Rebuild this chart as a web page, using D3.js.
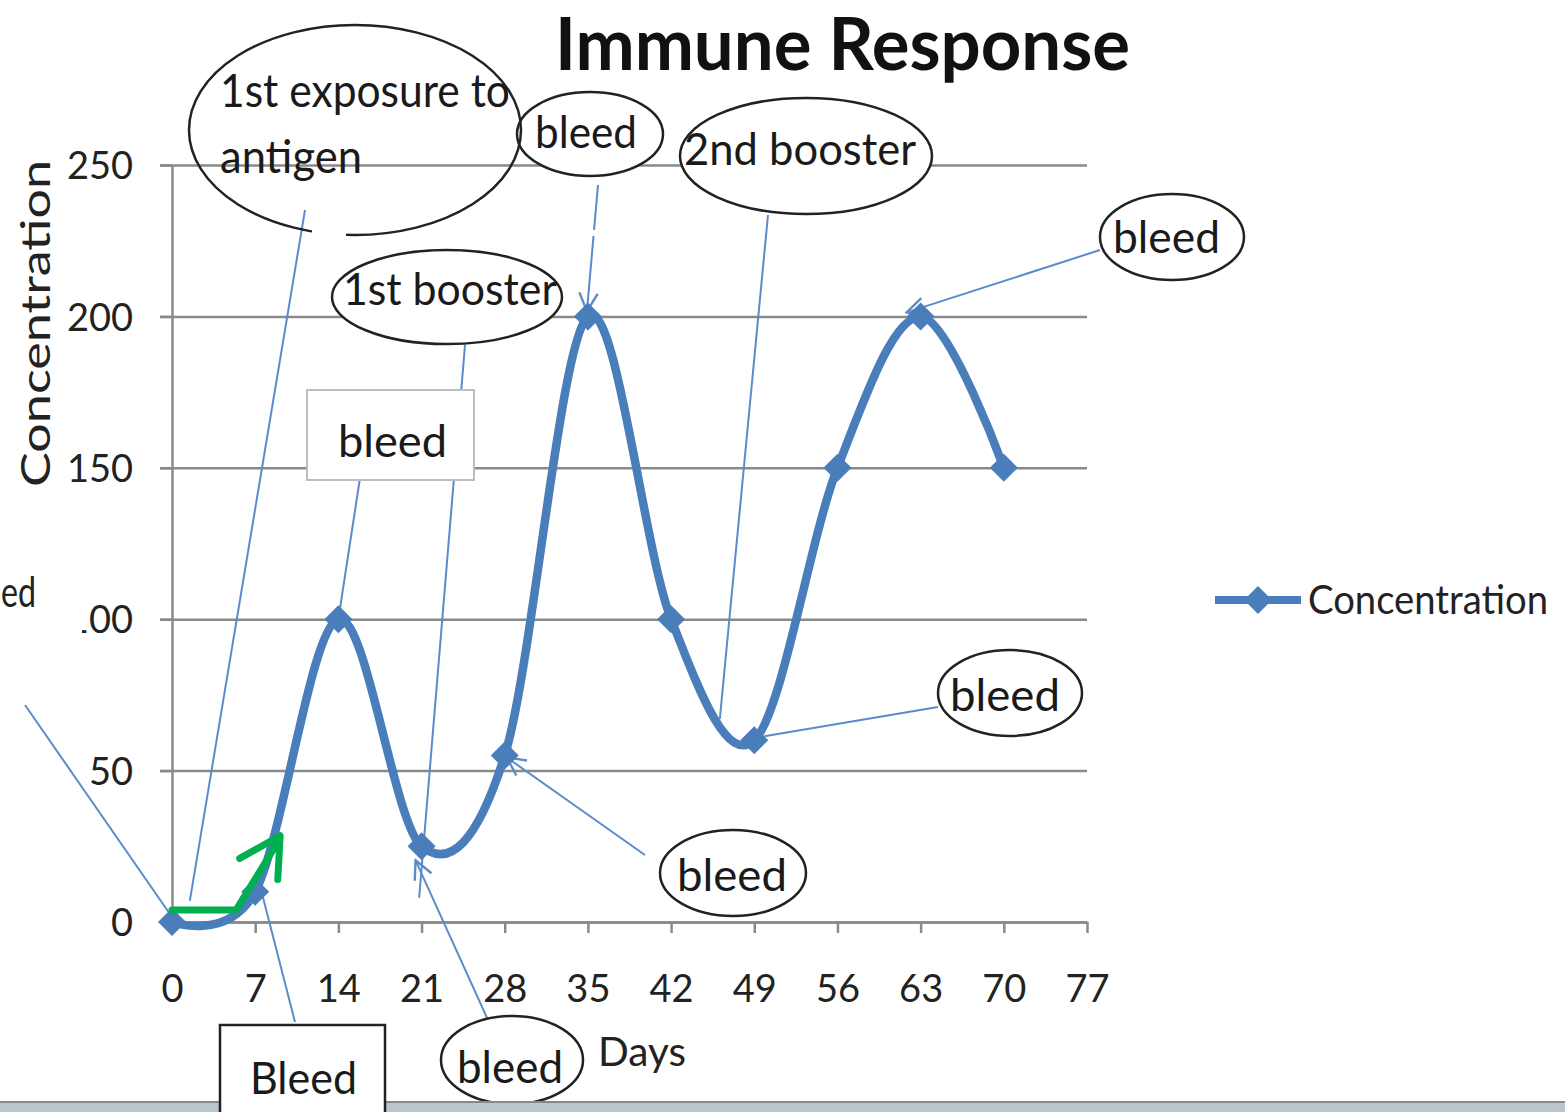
<!DOCTYPE html>
<html>
<head>
<meta charset="utf-8">
<script src="https://cdn.jsdelivr.net/npm/d3@7"></script>
<style>
  body { margin: 0; background: #fff; }
  svg { display: block; }
  .tick text { font-family: Lato, "Open Sans", sans-serif; fill: #222; }
</style>
</head>
<body>
<svg id="chart" width="1565" height="1112"></svg>
<script>

// chart data
var days          = [0, 7, 14, 21, 28, 35, 42, 49, 56, 63, 70];
var concentration = [0, 10, 100, 25, 55, 200, 100, 60, 150, 200, 150];
var xTicks        = [0, 7, 14, 21, 28, 35, 42, 49, 56, 63, 70, 77];
var yTicks        = [0, 50, 100, 150, 200, 250];
var seriesName    = "Concentration";
var chartTitle    = "Immune Response";
var xTitle        = "Days";

var BLUE  = "#4a7ebb";
var LEAD  = "#5b8cc9";
var FONT  = "Lato, 'Open Sans', sans-serif";

var svg = d3.select("#chart");

var xScale = d3.scaleLinear().domain([0, 77]).range([172, 1087]);
var yScale = d3.scaleLinear().domain([0, 250]).range([922, 165]);

var defs = svg.append("defs");
defs.append("marker")
    .attr("id", "arrow")
    .attr("viewBox", "0 0 12 12")
    .attr("refX", 11).attr("refY", 6)
    .attr("markerWidth", 22).attr("markerHeight", 22)
    .attr("markerUnits", "userSpaceOnUse")
    .attr("orient", "auto")
  .append("path")
    .attr("d", "M1,1 L11,6 L1,11")
    .attr("fill", "none")
    .attr("stroke", LEAD)
    .attr("stroke-width", 1.3);

// gridlines
var grid = svg.append("g")
    .attr("transform", "translate(1087,0)")
    .call(d3.axisLeft(yScale).tickValues(yTicks).tickSize(1087 - 160).tickFormat(""));
grid.select(".domain").remove();
grid.selectAll("line").attr("stroke", "#8a8a8a").attr("stroke-width", 2.5);

// y axis
var gy = svg.append("g")
    .attr("transform", "translate(172,0)")
    .call(d3.axisLeft(yScale).tickValues(yTicks).tickSize(12).tickPadding(27).tickSizeOuter(0));
gy.select(".domain").attr("stroke", "#8a8a8a").attr("stroke-width", 2.5);
gy.selectAll("line").attr("stroke", "#8a8a8a").attr("stroke-width", 2.5);
gy.selectAll("text").style("font-size", "38px").attr("dy", "0.36em");

// x axis
var gx = svg.append("g")
    .attr("transform", "translate(0," + yScale(0) + ")")
    .call(d3.axisBottom(xScale).tickValues(xTicks).tickSize(11).tickPadding(42).tickSizeOuter(0));
gx.select(".domain").attr("stroke", "#8a8a8a").attr("stroke-width", 2.5);
gx.selectAll("line").attr("stroke", "#8a8a8a").attr("stroke-width", 2.5);
gx.selectAll("text").style("font-size", "38px");

// titles
svg.append("text")
    .attr("x", 555).attr("y", 70)
    .attr("textLength", 575).attr("lengthAdjust", "spacingAndGlyphs")
    .style("font-family", FONT).style("font-weight", "bold").style("font-size", "72px")
    .attr("fill", "#111")
    .text(chartTitle);

svg.append("text")
    .attr("transform", "translate(50,487) rotate(-90)")
    .attr("textLength", 327).attr("lengthAdjust", "spacingAndGlyphs")
    .style("font-family", FONT).style("font-size", "40px")
    .attr("fill", "#222")
    .text(seriesName);

svg.append("text")
    .attr("x", 598).attr("y", 1066)
    .attr("textLength", 88).attr("lengthAdjust", "spacingAndGlyphs")
    .style("font-family", FONT).style("font-size", "40px")
    .attr("fill", "#222")
    .text(xTitle);

// leader lines (pixel start near the callout, end at a data point)
function pt(i) { return [xScale(days[i]), yScale(concentration[i])]; }

var leaders = svg.append("g").attr("stroke", LEAD).attr("stroke-width", 2).attr("fill", "none");
function leader(x1, y1, x2, y2, arrow) {
    var l = leaders.append("line")
        .attr("x1", x1).attr("y1", y1).attr("x2", x2).attr("y2", y2);
    if (arrow) l.attr("marker-end", "url(#arrow)");
    return l;
}
leader(305, 210, xScale(1.5), yScale(7), false);                       // 1st exposure
leader(465, 345, xScale(20.8), yScale(8), false);                      // 1st booster
leader(598, 185, pt(5)[0] - 1, pt(5)[1] - 5, true).attr("stroke-dasharray", "45 6 200"); // bleed day 35
leader(768, 215, xScale(46.1), yScale(67), false);                     // 2nd booster
leader(1100, 250, pt(9)[0] - 14, pt(9)[1] - 4, true);                  // bleed day 63
leader(360, 478, pt(2)[0], pt(2)[1], false);                           // bleed box day 14
leader(938, 707, pt(7)[0] + 10, pt(7)[1] - 4, false);                  // bleed day 49
leader(645, 855, pt(4)[0] + 2, pt(4)[1] + 2, true);                    // bleed day 28
leader(488, 1020, pt(3)[0] - 6, pt(3)[1] + 14, true);                  // bleed day 21
leader(295, 1022, xScale(7.6), yScale(9), false);                      // Bleed day 7
leader(25, 705, pt(0)[0], pt(0)[1] - 5, false);                        // clipped bleed day 0

// callout cut by the left edge: only "ed" of its "bleed" shows, its white box hides the "1" of 100
svg.append("rect")
    .attr("x", -120).attr("y", 552).attr("width", 202).attr("height", 150)
    .attr("fill", "#fff");
svg.append("text")
    .attr("x", 1).attr("y", 607)
    .attr("textLength", 35).attr("lengthAdjust", "spacingAndGlyphs")
    .style("font-family", FONT).style("font-size", "42px").attr("fill", "#222")
    .text("ed");

// callout ellipses
function ellipse(cx, cy, rx, ry, fill) {
    svg.append("ellipse")
        .attr("cx", cx).attr("cy", cy).attr("rx", rx).attr("ry", ry)
        .attr("fill", fill).attr("stroke", "#222").attr("stroke-width", 2.5);
}
function label(txt, x, y, w, size) {
    svg.append("text")
        .attr("x", x).attr("y", y)
        .attr("textLength", w).attr("lengthAdjust", "spacingAndGlyphs")
        .style("font-family", FONT).style("font-size", (size || 44) + "px")
        .attr("fill", "#1a1a1a")
        .text(txt);
}

ellipse(590, 134, 73, 42, "#fff");
label("bleed", 535, 148, 102);

ellipse(806, 156, 126, 58, "#fff");
label("2nd booster", 684, 165, 232);

ellipse(447, 297, 115, 47, "#fff");
label("1st booster", 343, 305, 214);

ellipse(1172, 237, 72, 43, "#fff");
label("bleed", 1113, 253, 107);

ellipse(1010, 693, 72, 43, "#fff");
label("bleed", 950, 711, 110);

ellipse(733, 873, 73, 43, "#fff");
label("bleed", 677, 891, 110);

ellipse(512, 1060, 71, 44, "#fff");
label("bleed", 457, 1083, 106);

// bleed box at day 14
svg.append("rect")
    .attr("x", 307).attr("y", 390).attr("width", 167).attr("height", 90)
    .attr("fill", "#fff").attr("stroke", "#bdbdbd").attr("stroke-width", 2);
label("bleed", 338, 457, 109);

// big unfilled ellipse
ellipse(355, 130, 166, 105, "none");
svg.append("rect").attr("x", 312).attr("y", 226).attr("width", 34).attr("height", 14).attr("fill", "#fff");
label("1st exposure to", 220, 107, 290, 46);
label("antigen", 220, 173, 142, 46);

// series, smoothed like the spreadsheet line
var line = d3.line()
    .x(function(d, i) { return xScale(days[i]); })
    .y(function(d) { return yScale(d); })
    .curve(d3.curveCardinal.tension(0));

svg.append("path")
    .datum(concentration)
    .attr("d", line)
    .attr("fill", "none")
    .attr("stroke", BLUE)
    .attr("stroke-width", 8.5)
    .attr("stroke-linejoin", "round");

// square diamond marker
var diamond = "M0,-14L14,0L0,14L-14,0Z";
svg.selectAll(".pt")
    .data(concentration)
    .enter()
    .append("path")
    .attr("class", "pt")
    .attr("d", diamond)
    .attr("transform", function(d, i) { return "translate(" + xScale(days[i]) + "," + yScale(d) + ")"; })
    .attr("fill", BLUE);

// green hand drawn arrow
var green = svg.append("g").attr("stroke", "#00b050").attr("stroke-width", 7)
    .attr("fill", "none").attr("stroke-linecap", "round").attr("stroke-linejoin", "round");
green.append("polyline")
    .attr("points", [[xScale(0), yScale(4)], [xScale(5.4), yScale(4)], [xScale(9), yScale(27)]].join(" "));
green.append("polyline")
    .attr("points", [[xScale(5.7), yScale(21)], [xScale(9.1), yScale(28.5)], [xScale(8.9), yScale(14)]].join(" "));

// legend
var lg = svg.append("g").attr("transform", "translate(1215,600)");
lg.append("line").attr("x1", 0).attr("x2", 86).attr("stroke", BLUE).attr("stroke-width", 8);
lg.append("path").attr("d", diamond).attr("transform", "translate(43,0)").attr("fill", BLUE);
lg.append("text")
    .attr("x", 93).attr("y", 14)
    .attr("textLength", 240).attr("lengthAdjust", "spacingAndGlyphs")
    .style("font-family", FONT).style("font-size", "40px").attr("fill", "#222")
    .text(seriesName);

// slide border strip at the bottom
svg.append("rect").attr("x", 0).attr("y", 1102).attr("width", 1565).attr("height", 10).attr("fill", "#b9c6cc");
svg.append("line").attr("x1", 0).attr("x2", 1565).attr("y1", 1102).attr("y2", 1102)
    .attr("stroke", "#7f8b91").attr("stroke-width", 2);

// Bleed box at day 7
svg.append("rect")
    .attr("x", 220).attr("y", 1025).attr("width", 165).attr("height", 100)
    .attr("fill", "#fff").attr("stroke", "#222").attr("stroke-width", 2.5);
label("Bleed", 250, 1094, 107);

</script>
</body>
</html>
